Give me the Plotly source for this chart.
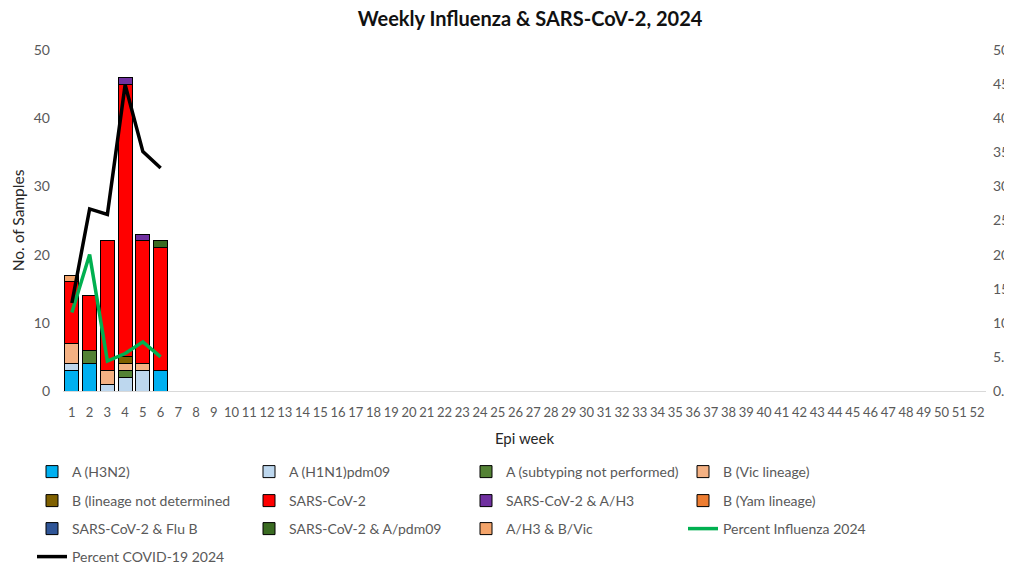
import plotly.graph_objects as go

weeks = [str(i) for i in range(1, 53)]
data_weeks = ["1", "2", "3", "4", "5", "6"]

series_names = [
    "A (H3N2)", "A (H1N1)pdm09", "A (subtyping not performed)", "B (Vic lineage)",
    "B (lineage not determined", "SARS-CoV-2", "SARS-CoV-2 & A/H3", "B (Yam lineage)",
    "SARS-CoV-2 & Flu B", "SARS-CoV-2 & A/pdm09", "A/H3 & B/Vic",
]
a_h3n2 = [3, 4, 0, 0, 0, 3]
a_h1n1 = [1, 0, 1, 2, 3, 0]
a_notsub = [0, 2, 0, 1, 0, 0]
b_vic = [3, 0, 2, 1, 1, 0]
b_undet = [0, 0, 0, 1, 0, 0]
sars = [9, 8, 19, 40, 18, 18]
sars_h3 = [0, 0, 0, 1, 1, 0]
b_yam = [0, 0, 0, 0, 0, 0]
sars_flub = [0, 0, 0, 0, 0, 0]
sars_pdm = [0, 0, 0, 0, 0, 1]
h3_bvic = [1, 0, 0, 0, 0, 0]
pct_flu = [11.5, 20.0, 4.4, 5.5, 7.2, 5.0]
pct_covid = [12.9, 26.7, 25.9, 44.9, 35.1, 32.7]

series_values = [a_h3n2, a_h1n1, a_notsub, b_vic, b_undet, sars, sars_h3, b_yam,
                 sars_flub, sars_pdm, h3_bvic]
colors = ["#00B0F0", "#BDD7EE", "#548235", "#F4B183", "#7F6000", "#FF0000",
          "#7030A0", "#ED7D31", "#2F5597", "#3A6B22", "#F4A46A"]
legend_of = ["legend", "legend", "legend", "legend",
             "legend2", "legend2", "legend2", "legend2",
             "legend3", "legend3", "legend3"]

FONT = "Lato, 'Open Sans', sans-serif"
GREY = "#595959"

fig = go.Figure()
for name, vals, col, lg in zip(series_names, series_values, colors, legend_of):
    fig.add_trace(go.Bar(
        x=data_weeks, y=vals, name=name, marker=dict(color=col, line=dict(color="#000000", width=1)),
        legend=lg,
    ))

fig.add_trace(go.Scatter(x=data_weeks, y=pct_flu, name="Percent Influenza 2024", mode="lines",
                         line=dict(color="#00B050", width=3.5), yaxis="y2", legend="legend3"))
fig.add_trace(go.Scatter(x=data_weeks, y=pct_covid, name="Percent COVID-19 2024", mode="lines",
                         line=dict(color="#000000", width=3.5), yaxis="y2", legend="legend4"))

# the page body has an 8px margin, so the figure is 8px smaller and all positions shifted by 8
W, H = 1004, 561
leg_common = dict(orientation="h", entrywidth=172, entrywidthmode="pixels", xanchor="left",
                  yanchor="middle", xref="container", yref="container",
                  font=dict(family=FONT, size=14, color=GREY),
                  bgcolor="rgba(0,0,0,0)", itemwidth=30, traceorder="normal")
lx = 24 / W
fig.update_layout(
    width=W, height=H,
    margin=dict(l=55, r=26, t=42, b=178),
    paper_bgcolor="white", plot_bgcolor="white",
    barmode="stack", bargap=0.2,
    font=dict(family=FONT, size=14, color=GREY),
    title=dict(text="<b>Weekly Influenza & SARS-CoV-2, 2024</b>", x=522 / W, xanchor="center",
               y=1 - 11 / H, yanchor="middle", font=dict(family=FONT, size=20, color="#111111")),
    xaxis=dict(type="category", categoryorder="array", categoryarray=weeks, range=[-0.5, 51.5],
               showline=True, linecolor="#D9D9D9", linewidth=1, ticks="", showgrid=False,
               tickfont=dict(size=13, color=GREY), tickangle=0, ticklabelstandoff=9,
               automargin=False,
               title=dict(text="Epi week", font=dict(size=15, color="#262626"), standoff=14)),
    yaxis=dict(range=[0, 50], dtick=10, showgrid=False, zeroline=False, showline=False,
               tickfont=dict(size=14, color=GREY), ticklabelstandoff=12, automargin=False,
               title=dict(text="No. of Samples", font=dict(size=15.5, color="#262626"), standoff=5)),
    yaxis2=dict(range=[0, 50], dtick=5, tickformat=".1f", overlaying="y", side="right",
                showgrid=False, zeroline=False, showline=False, automargin=False,
                tickfont=dict(size=14, color=GREY), ticklabelstandoff=6),
    legend=dict(x=lx, y=1 - 464 / H, **leg_common),
    legend2=dict(x=lx, y=1 - 493 / H, **leg_common),
    legend3=dict(x=lx, y=1 - 521 / H, **leg_common),
    legend4=dict(x=lx, y=1 - 549 / H, **leg_common),
)

fig.write_html("out.html")
